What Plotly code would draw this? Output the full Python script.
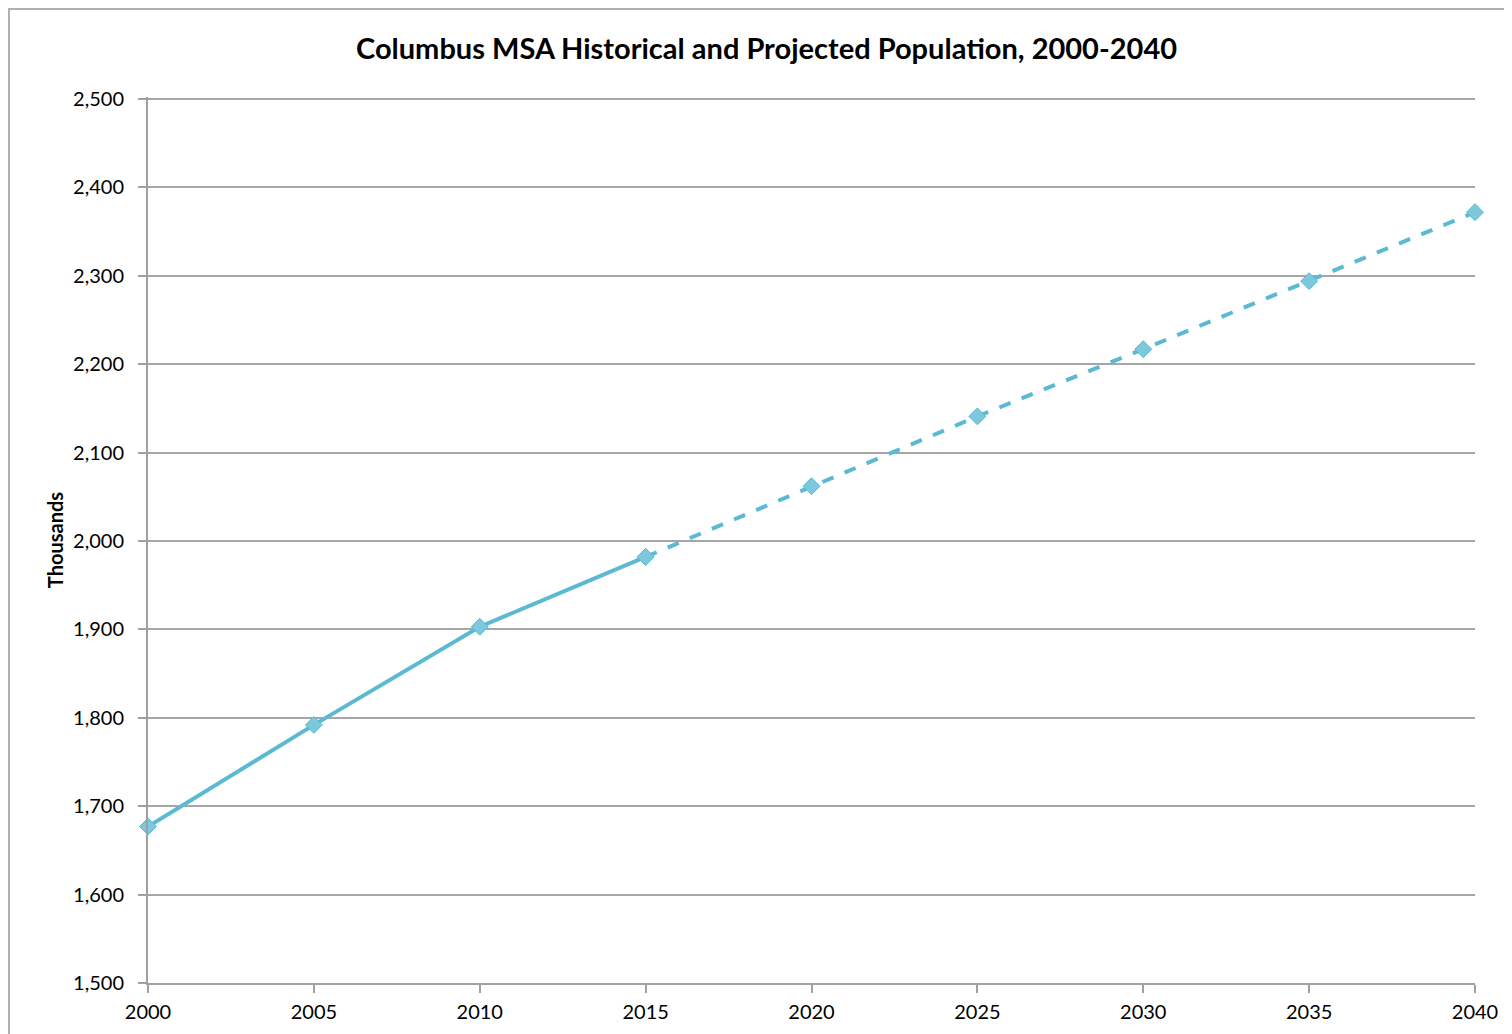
import plotly.graph_objects as go

hist_years = [2000, 2005, 2010, 2015]
hist_values = [1677, 1792, 1903, 1982]
proj_years = [2015, 2020, 2025, 2030, 2035, 2040]
proj_values = [1982, 2062, 2141, 2217, 2294, 2372]

color = "#5BBAD2"
font_family = "Lato, Open Sans, sans-serif"

W, H = 1505, 1027
L, R, T, B = 140, 38, 89, 52
PW, PH = W - L - R, H - T - B

fig = go.Figure()
for xs, ys, dash in [(hist_years, hist_values, "solid"), (proj_years, proj_values, "dash")]:
    fig.add_trace(go.Scatter(
        x=xs, y=ys, mode="lines+markers",
        line=dict(color=color, width=4, dash=dash),
        marker=dict(symbol="diamond", size=13, color="#7CC8DC", line=dict(color=color, width=1)),
        showlegend=False, cliponaxis=False))

fig.update_layout(
    width=W, height=H,
    margin=dict(l=L, r=R, t=T, b=B),
    paper_bgcolor="white", plot_bgcolor="white",
    font=dict(family=font_family, color="black", size=20),
    title=dict(text="<b>Columbus MSA Historical and Projected Population, 2000-2040</b>",
               x=0.504, xanchor="center", y=0.960, yanchor="middle",
               font=dict(size=29, family=font_family, color="black")),
    xaxis=dict(range=[2000, 2040], tickvals=list(range(2000, 2041, 5)),
               showgrid=False, showline=True, linecolor="#a0a0a0", linewidth=2,
               ticks="outside", ticklen=8, tickcolor="#a0a0a0", tickwidth=2,
               zeroline=False, tickfont=dict(size=20), ticklabelstandoff=2),
    yaxis=dict(range=[1500, 2502.3], dtick=100, tickformat=",",
               showgrid=True, gridcolor="#a6a6a6", gridwidth=2,
               showline=True, linecolor="#a0a0a0", linewidth=2,
               ticks="outside", ticklen=8, tickcolor="#a0a0a0", tickwidth=2,
               zeroline=False, tickfont=dict(size=20), ticklabelstandoff=10,
               title=dict(text="<b>Thousands</b>", font=dict(size=20), standoff=4)),
    shapes=[dict(type="rect", xref="paper", yref="paper",
                 x0=(1 - L) / PW, x1=(W + 20 - L) / PW,
                 y0=-(B + 20) / PH, y1=(PH + T - 1) / PH,
                 line=dict(color="#b0b0b0", width=2), layer="below")],
)

fig.write_html("out.html")
